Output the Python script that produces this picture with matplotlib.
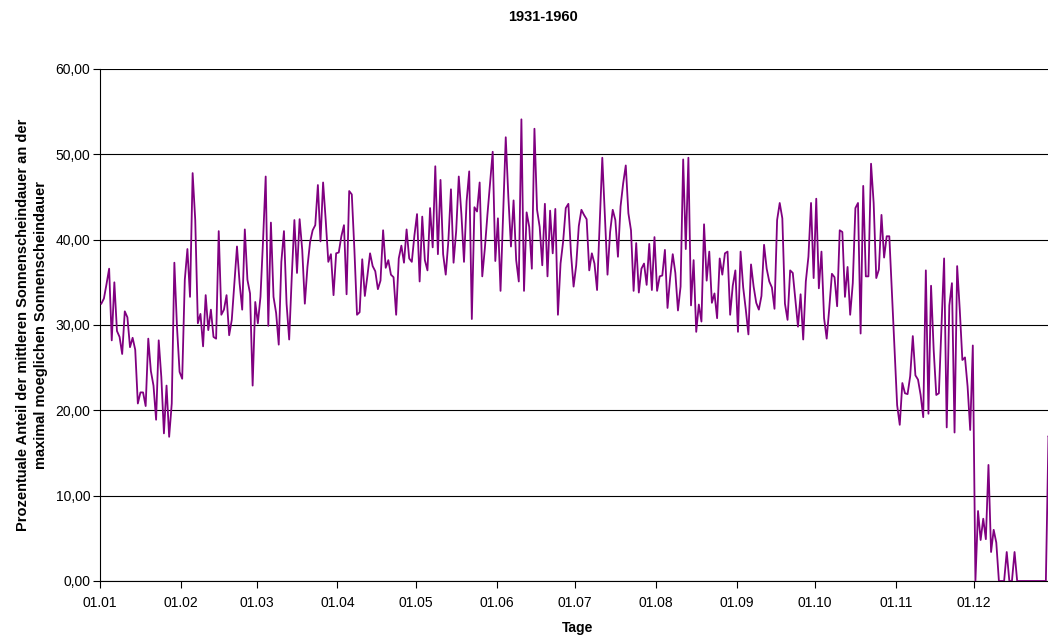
import matplotlib
matplotlib.use("Agg")
import matplotlib.pyplot as plt
import numpy as np
from matplotlib.ticker import FuncFormatter

plt.rcParams["font.family"] = ["Liberation Sans", "DejaVu Sans"]

# daily share of sunshine duration (%), 1931-1960, 366 days incl. 29.02.
jan = [32.5, 33.1, 34.8, 36.6, 28.2, 35.0, 29.3, 28.6, 26.6, 31.6, 30.9, 27.4, 28.5, 27.1, 20.8, 22.1,
       22.1, 20.5, 28.4, 24.6, 22.9, 18.9, 28.2, 23.9, 17.3, 22.9, 16.9, 20.8, 37.3, 29.8, 24.5]
feb = [23.7, 35.3, 38.9, 33.3, 47.8, 42.3, 30.2, 31.3, 27.5, 33.5, 29.4, 31.8, 28.6, 28.4, 41.0, 31.2,
       31.8, 33.5, 28.8, 30.6, 34.9, 39.2, 34.9, 31.8, 41.2, 35.3, 33.7, 22.9, 32.7]
mar = [30.2, 33.3, 40.0, 47.4, 29.9, 42.0, 33.3, 31.4, 27.7, 37.4, 41.0, 32.5, 28.3, 35.7, 42.3, 36.1,
       42.4, 38.8, 32.5, 36.8, 39.7, 41.1, 41.7, 46.4, 39.8, 46.7, 42.3, 37.4, 38.3, 33.5, 38.4]
apr = [38.5, 40.4, 41.7, 33.6, 45.7, 45.3, 38.8, 31.2, 31.5, 37.7, 33.4, 35.8, 38.4, 36.9, 36.3, 34.2,
       35.2, 41.1, 36.7, 37.6, 35.9, 35.6, 31.2, 37.8, 39.3, 37.3, 41.2, 37.8, 37.4, 40.5]
may = [43.0, 35.1, 42.7, 37.6, 36.4, 43.7, 39.1, 48.6, 38.3, 47.0, 38.3, 35.9, 39.8, 45.9, 37.3, 41.0,
       47.4, 43.0, 37.4, 44.5, 48.0, 30.7, 43.8, 43.3, 46.7, 35.7, 39.0, 43.0, 46.6, 50.3, 37.5]
jun = [42.5, 34.0, 43.0, 52.0, 45.0, 39.2, 44.6, 37.6, 35.1, 54.1, 34.0, 43.2, 41.5, 36.6, 53.0, 43.5,
       41.5, 37.0, 44.2, 35.7, 43.4, 38.4, 43.6, 31.2, 37.2, 39.8, 43.7, 44.2, 38.4, 34.5]
jul = [37.0, 41.6, 43.5, 42.9, 42.4, 36.4, 38.4, 37.2, 34.1, 41.8, 49.6, 42.7, 35.9, 40.9, 43.5, 42.3,
       38.0, 43.9, 46.6, 48.7, 43.1, 41.1, 34.0, 39.6, 33.8, 36.6, 37.2, 34.7, 39.5, 34.1, 40.3]
aug = [34.0, 35.7, 35.8, 38.8, 32.0, 35.5, 38.3, 36.1, 31.7, 34.5, 49.4, 38.9, 49.6, 32.3, 37.6, 29.2,
       32.4, 30.4, 41.8, 35.2, 38.6, 32.6, 33.7, 30.8, 37.8, 35.9, 38.4, 38.6, 31.2, 34.6, 36.4]
sep = [29.2, 38.6, 34.4, 31.8, 28.9, 37.1, 34.5, 32.6, 31.8, 33.4, 39.4, 36.6, 35.1, 34.4, 31.9, 42.3,
       44.3, 42.5, 32.5, 30.6, 36.4, 36.1, 32.9, 29.8, 33.6, 28.3, 35.1, 38.0, 44.3, 35.5]
okt = [44.8, 34.3, 38.6, 30.8, 28.4, 32.0, 36.0, 35.6, 32.2, 41.1, 40.9, 33.3, 36.8, 31.2, 34.9, 43.7,
       44.3, 29.0, 46.3, 35.7, 35.7, 48.9, 44.3, 35.5, 36.5, 42.9, 37.9, 40.4, 40.4, 33.8, 27.2]
nov = [20.6, 18.3, 23.2, 22.0, 21.9, 24.0, 28.7, 24.1, 23.6, 21.8, 19.2, 36.4, 19.6, 34.6, 27.1, 21.8,
       22.0, 29.8, 37.8, 18.0, 32.3, 34.9, 17.4, 36.9, 31.8, 25.9, 26.2, 22.8, 17.7, 27.6]
dez = [0.0, 8.2, 4.8, 7.3, 4.9, 13.6, 3.4, 6.0, 4.5, 0.0, 0.0, 0.0, 3.4, 0.0, 0.0, 3.4,
       0.0, 0.0, 0.0, 0.0, 0.0, 0.0, 0.0, 0.0, 0.0, 0.0, 0.0, 0.0, 17.0, 16.0, 15.0]

months = [jan, feb, mar, apr, may, jun, jul, aug, sep, okt, nov, dez]
month_labels = ["01.01", "01.02", "01.03", "01.04", "01.05", "01.06",
                "01.07", "01.08", "01.09", "01.10", "01.11", "01.12"]

values = [v for m in months for v in m]
days = np.arange(len(values))
month_starts = np.cumsum([0] + [len(m) for m in months[:-1]]) - 0.5

fig = plt.figure(figsize=(10.48, 6.41), dpi=100)
# plot area runs a little past the right edge of the image
ax = fig.add_axes([100 / 1048, 60 / 641, 955 / 1048, 512 / 641])

ax.plot(days, values, color="#800080", lw=1.3, zorder=3)

ax.set_xlim(-0.5, len(values) - 0.5)
ax.set_ylim(0, 60)
ax.set_yticks(np.arange(0, 61, 10))
ax.yaxis.set_major_formatter(FuncFormatter(lambda v, p: f"{v:.2f}".replace(".", ",")))
ax.set_xticks(month_starts)
ax.set_xticklabels(month_labels)

ax.grid(axis="y", color="black", lw=0.8)
ax.set_axisbelow(True)
for side in ["top", "right"]:
    ax.spines[side].set_visible(False)
for side in ["left", "bottom"]:
    ax.spines[side].set_linewidth(0.8)
ax.tick_params(direction="out", length=5, width=0.8, labelsize=10)
ax.tick_params(axis="x", pad=6)
ax.tick_params(axis="y", pad=2)

ax.set_xlabel("Tage", fontweight="bold", fontsize=10, labelpad=8)
ax.set_ylabel("Prozentuale Anteil der mittleren Sonnenscheindauer an der\n"
              "maximal moeglichen Sonnenscheindauer",
              fontweight="bold", fontsize=10.5, labelpad=5, linespacing=1.45)
fig.text(543 / 1048, 1 - 17 / 641, "1931-1960", ha="center", va="center",
         fontweight="bold", fontsize=10.5)

fig.savefig("out.png", dpi=100)
